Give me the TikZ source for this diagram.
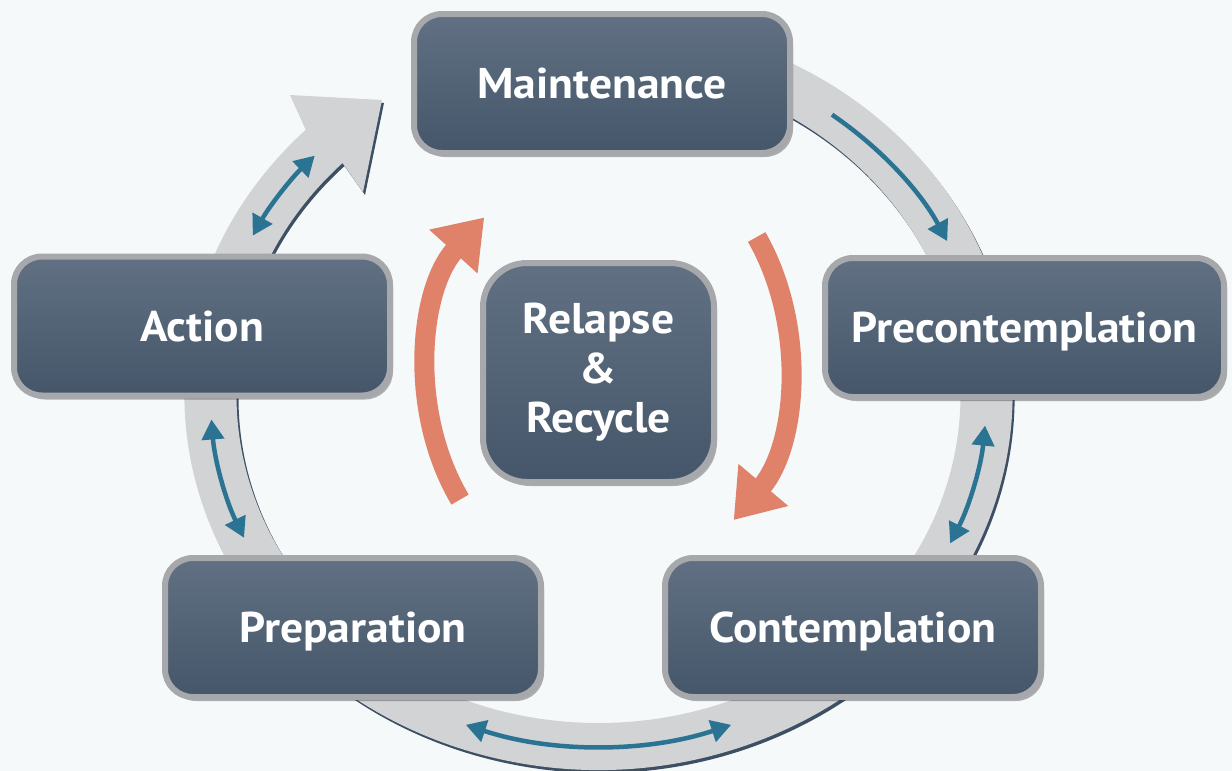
\documentclass[tikz,border=0pt]{standalone}
\usepackage{fontspec}
\newfontfamily\stagefont[FakeStretch = 1.06]{PT Sans}
\usetikzlibrary{arrows.meta, shadows}

\definecolor{paper}{HTML}{F5F9FA}
\definecolor{ringgray}{HTML}{D1D3D5}
\definecolor{ringshade}{HTML}{3D4F63}
\definecolor{boxtop}{HTML}{617183}
\definecolor{boxbottom}{HTML}{46566A}
\definecolor{boxrim}{HTML}{A6A8AB}
\definecolor{cyclearrow}{HTML}{2A7392}
\definecolor{relapsearrow}{HTML}{E08169}

\begin{document}
\begin{tikzpicture}[x = 0.5pt, y = 0.5pt, > = {Triangle[length = 10pt, width = 11pt]},
	box/.style = {draw = boxrim, line width = 3pt, top color = boxtop, bottom color = boxbottom, inner sep = 0pt, text = white, font = \stagefont\bfseries\fontsize{21.5pt}{24.75pt}\selectfont, drop shadow = {shadow xshift = 1.5pt, shadow yshift = -2pt, opacity = 0.3, fill = black}},
	stage/.style = {box, rounded corners = 14pt, minimum width = 188pt, minimum height = 69.5pt, text height = 15pt, text depth = 0pt},
	ringarrow/.style = {cyclearrow, line width = 2.25pt},
	backarrow/.style = {relapsearrow, line width = 10pt, -{Triangle[length = 23pt, width = 31pt]}}
]

	% Definitions
	
	\def\cx{598.5}		% Ring centre
	\def\cy{-395}
	
	% Paper
	
	\useasboundingbox (0, 0) rectangle (1232, -771);
	\fill [paper] (0, 0) rectangle (1232, -771);
	
	% Ring with its shadow, ending in the big arrowhead
	
	\foreach \dx/\dy/\col in {2/-3/ringshade, 0/0/ringgray}
		\fill [\col, shift = {(\dx, \dy)}] ({\cx + 414 * cos(75)}, {\cy + 375 * sin(75)}) arc [start angle = 75, end angle = -225, x radius = 414, y radius = 375] -- (290, -95) -- (382, -100) -- (363, -192) -- ({\cx + 362 * cos(135)}, {\cy + 328 * sin(135)}) arc [start angle = 135, end angle = 435, x radius = 362, y radius = 328] -- cycle;
	
	% Small arrows on the ring
	
	\foreach \s/\e/\tips in {153/137/<->, 53/26/->, -5/-25/<->, -110/-70/<->, 184/204/<->}
		\draw [ringarrow, \tips] ({\cx + 388 * cos(\s)}, {\cy + 351 * sin(\s)}) arc [start angle = \s, end angle = \e, x radius = 388, y radius = 351];
	
	% Stages
	
	\node [stage] (maintenance) at (602, -83.5) {Maintenance};
	\node [stage, minimum width = 199.5pt] (precontemplation) at (1024.5, -327.5) {Precontemplation};
	\node [stage] (contemplation) at (853, -627.5) {Contemplation};
	\node [stage] (preparation) at (353, -627.5) {Preparation};
	\node [stage] (action) at (202, -326) {Action};
	
	% Relapse in the middle
	
	\node [box, rounded corners = 22pt, minimum width = 115.5pt, minimum height = 109.5pt, align = center] (relapse) at (598.5, -372.5) {Relapse\\\&\\Recycle};
	
	\draw [backarrow] ({600 + 173 * cos(216)}, {-375 + 212 * sin(216)}) arc [start angle = 216, end angle = 132, x radius = 173, y radius = 212];
	\draw [backarrow] ({600 + 189 * cos(34)}, {-362 + 223.5 * sin(34)}) arc [start angle = 34, end angle = -45, x radius = 189, y radius = 223.5];

\end{tikzpicture}
\end{document}
